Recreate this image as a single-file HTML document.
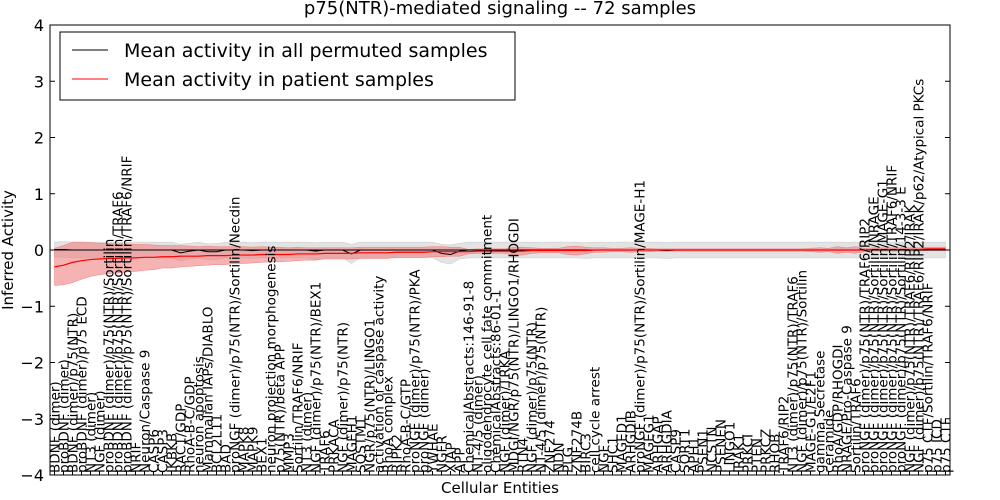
<!DOCTYPE html>
<html><head><meta charset="utf-8"><style>
body{margin:0;background:#fff;}
svg{display:block;font-family:"DejaVu Sans","Liberation Sans",sans-serif;}
</style></head><body>
<svg id="chart" width="1000" height="500"></svg>
<script>
const labels=["BDNF (dimer)","proBDNF (dimer)","BDNF (dimer)/p75(NTR)","proBDNF (dimer)/p75 ECD","NT3 (dimer)","NGF (dimer)","proBDNF (dimer)/p75(NTR)/Sortilin","proBDNF (dimer)/p75(NTR)/Sortilin/TRAF6","proBDNF (dimer)/p75(NTR)/Sortilin/TRAF6/NRIF","NRIF","Neuron/Caspase 9","CASP6","CASP3","IKBKB","RAC1/GDP","RhoA-B-C/GDP","neuron apoptosis","Mammalian IAPs/DIABLO","BCL2L11","BAD","proNGF (dimer)/p75(NTR)/Sortilin/Necdin","MAPK8","MAPK9","BEX1","neuron projection morphogenesis","p75(NTR)/beta APP","MMP3","Sortilin/TRAF6/NRIF","NT3 (dimer)","NGF (dimer)/p75(NTR)/BEX1","TRAF6","PRKACA","NGF (dimer)/p75(NTR)","MAGEH1","SQSTM1","NGR/p75(NTR)/LINGO1","activation of caspase activity","RhoA complex","RIPK2","RhoA-B-C/GTP","proNGF (dimer)/p75(NTR)/PKA","proNGF (dimer)","YWHAE","NGFR","XIAP","APP","ChemicalAbstracts:146-91-8","NT-4/5 (dimer)","oligodendrocyte cell fate commitment","ChemicalAbstracts:86-01-1","NGF (dimer)/TRKA","MDGI/NGR/p75(NTR)/LINGO1/RHOGDI","RTN4","NGF (dimer)/p75(NTR)","NT-4/5 (dimer)/p75(NTR)","ZNF274","NDN","PLG","ZNF274B","BIRC3","cell cycle arrest","NGF","SHC1","MAGED1","ARHGDIB","proNGF (dimer)/p75(NTR)/Sortilin/MAGE-H1","MAGEG1","ARHGAP","ARHGDIA","CASP9","SORT1","APH1","PSEN1","NCSTN","PSENEN","LINGO1","IRAK1","PRKCI","PTEN","PRKCZ","RHOB","TRAF6/RIP2","NT3 (dimer)/p75(NTR)/TRAF6","NGF (dimer)/p75(NTR)/Sortilin","MAGE-G1/E2F1","gamma Secretase","ceramide","RhoA/GDP/RHOGDI","NRAGE/Pro-Caspase 9","Sortilin/TRAF6","proNGF (dimer)/p75(NTR)/TRAF6/RIP2","proNGF (dimer)/p75(NTR)/Sortilin/NRAGE","proNGF (dimer)/p75(NTR)/Sortilin/MAGE-G1","proNGF (dimer)/p75(NTR)/Sortilin/TRAF6/NRIF","proNGF (dimer)/p75(NTR)/Sortilin/14-3-3 E","NGF (dimer)/p75(NTR)/TRAF6/RIP2/IRAK","NGF (dimer)/p75(NTR)/TRAF6/RIP2/IRAK/p62/Atypical PKCs","p75 CTF/Sortilin/TRAF6/NRIF","p75 ICD","p75 CTF"];
const redMean=[-0.30,-0.27,-0.22,-0.19,-0.17,-0.16,-0.15,-0.15,-0.14,-0.14,-0.13,-0.13,-0.12,-0.12,-0.11,-0.11,-0.11,-0.10,-0.10,-0.10,-0.09,-0.09,-0.09,-0.08,-0.08,-0.08,-0.08,-0.07,-0.07,-0.07,-0.06,-0.06,-0.06,-0.06,-0.05,-0.05,-0.05,-0.05,-0.04,-0.04,-0.04,-0.04,-0.03,-0.03,-0.03,-0.03,-0.03,-0.02,-0.02,-0.02,-0.02,-0.02,-0.02,-0.01,-0.01,-0.01,-0.01,-0.01,-0.01,-0.01,0.00,0.00,0.00,0.00,0.00,0.00,0.00,0.00,0.00,0.00,0.00,0.00,0.00,0.00,0.00,0.00,0.00,0.00,0.00,0.00,0.00,0.00,0.00,0.00,0.00,0.00,0.00,0.00,0.00,0.00,0.00,0.01,0.01,0.01,0.01,0.01,0.01,0.02,0.02,0.02];
const redSpread=[0.33,0.35,0.36,0.33,0.3,0.28,0.27,0.26,0.25,0.24,0.23,0.22,0.2,0.2,0.19,0.18,0.17,0.17,0.16,0.16,0.15,0.15,0.14,0.14,0.13,0.13,0.12,0.12,0.11,0.11,0.1,0.1,0.1,0.1,0.1,0.1,0.1,0.1,0.09,0.09,0.09,0.09,0.09,0.09,0.08,0.08,0.04,0.04,0.04,0.04,0.04,0.07,0.07,0.05,0.04,0.04,0.04,0.07,0.08,0.06,0.04,0.04,0.03,0.03,0.04,0.03,0.03,0.02,0.02,0.02,0.02,0.02,0.02,0.02,0.02,0.02,0.02,0.02,0.02,0.02,0.02,0.02,0.02,0.02,0.03,0.04,0.03,0.06,0.04,0.06,0.03,0.03,0.03,0.03,0.03,0.03,0.03,0.03,0.03,0.03];
const blackMean=[0.01,0.01,0.0,0.0,0.0,0.0,0.0,0.0,0.0,0.0,0.0,0.0,0.0,0.0,-0.05,-0.02,0.0,-0.03,-0.03,0.0,0.0,0.0,-0.01,0.0,0.0,0.0,0.0,0.0,0.0,-0.02,0.0,0.0,0.0,-0.07,0.0,0.0,0.0,0.0,0.0,0.0,0.0,0.0,0.0,-0.06,-0.08,-0.02,0.0,0.0,0.0,0.0,0.0,0.0,0.0,0.0,0.0,0.0,0.0,0.0,0.0,-0.01,0.0,0.0,0.0,0.0,0.0,0.0,0.0,0.0,-0.01,0.0,0.0,0.0,0.0,0.0,0.0,0.0,0.0,0.0,0.0,0.0,0.0,0.0,0.0,0.0,0.0,0.0,0.0,0.0,0.0,0.0,0.0,0.0,0.0,0.0,0.0,0.0,0.0,0.0,0.0,0.0];
const graySpread=[0.13,0.14,0.14,0.14,0.14,0.14,0.14,0.14,0.14,0.14,0.14,0.14,0.14,0.14,0.15,0.14,0.14,0.14,0.14,0.14,0.14,0.14,0.14,0.14,0.14,0.14,0.14,0.14,0.14,0.15,0.14,0.14,0.14,0.17,0.14,0.14,0.14,0.14,0.14,0.14,0.14,0.14,0.14,0.16,0.17,0.14,0.14,0.14,0.14,0.14,0.14,0.14,0.14,0.14,0.14,0.14,0.14,0.14,0.14,0.14,0.14,0.14,0.14,0.14,0.14,0.14,0.14,0.14,0.14,0.14,0.14,0.14,0.14,0.14,0.14,0.14,0.14,0.14,0.14,0.14,0.14,0.14,0.14,0.14,0.14,0.14,0.14,0.14,0.14,0.14,0.14,0.14,0.14,0.14,0.14,0.14,0.14,0.14,0.14,0.14];
const yTicks=[-4,-3,-2,-1,0,1,2,3,4];

const NS="http://www.w3.org/2000/svg";
const svg=document.getElementById('chart');
const L=50,R=950,T=25,B=475,N=labels.length;
const x=i=>L+(i+0.5)*(R-L)/N;
const y=v=>T+(4-v)*(B-T)/8;
function mk(tag,at,parent){const e=document.createElementNS(NS,tag);for(const k in at)e.setAttribute(k,at[k]);(parent||svg).appendChild(e);return e;}
function band(mean,spread){let p=[];for(let i=0;i<N;i++)p.push(x(i)+','+y(mean[i]+spread[i]));for(let i=N-1;i>=0;i--)p.push(x(i)+','+y(mean[i]-spread[i]));return p.join(' ');}
function line(mean){return mean.map((v,i)=>x(i)+','+y(v)).join(' ');}

const g=mk('polygon',{points:band(blackMean,graySpread),fill:'#dcdcdc','fill-opacity':'0.8',stroke:'#c8c8c8','stroke-width':'0.5'});


const rb=mk('polygon',{points:band(redMean,redSpread),fill:'#f08080','fill-opacity':'0.6',stroke:'#f08080','stroke-width':'0.5'});


const zl=mk('line',{x1:L,x2:R,y1:y(0),y2:y(0),stroke:'#000','stroke-width':'1'});


const bl=mk('polyline',{points:line(blackMean),fill:'none',stroke:'#000','stroke-width':'1'});


const rl=mk('polyline',{points:line(redMean),fill:'none',stroke:'#f00','stroke-width':'1.2'});



labels.forEach((t,i)=>{
  const e=mk('text',{x:0,y:0,transform:`translate(${x(i)+5},${B-2}) rotate(-90)`,'font-size':'13.5',fill:'#000'});
  e.textContent=t;
  
  
});

const fr=mk('rect',{x:L,y:T,width:R-L,height:B-T,fill:'none',stroke:'#000','stroke-width':'1'});


yTicks.forEach(v=>{
  mk('line',{x1:L,x2:L+5,y1:y(v),y2:y(v),stroke:'#000'});
  mk('line',{x1:R-5,x2:R,y1:y(v),y2:y(v),stroke:'#000'});
  const e=mk('text',{x:L-6,y:y(v)+6,'text-anchor':'end','font-size':'16',fill:'#000'});
  e.textContent=v<0?'\u2212'+(-v):String(v);
  
  
});
for(let i=0;i<N;i++){mk('line',{x1:x(i),x2:x(i),y1:B,y2:B-4,stroke:'#000'});}

const tt=mk('text',{x:500,y:14,'text-anchor':'middle','font-size':'18'});tt.textContent='p75(NTR)-mediated signaling -- 72 samples';


const yl=mk('text',{x:0,y:0,transform:'translate(13,250) rotate(-90)','text-anchor':'middle','font-size':'15'});yl.textContent='Inferred Activity';


const xl=mk('text',{x:500,y:493,'text-anchor':'middle','font-size':'15'});xl.textContent='Cellular Entities';



const lg=mk('g',{});


mk('rect',{x:60,y:32,width:455,height:68,fill:'#fff',stroke:'#000'},lg);
mk('line',{x1:72,x2:108,y1:50,y2:50,stroke:'#000'},lg);
mk('line',{x1:72,x2:108,y1:79,y2:79,stroke:'#f00'},lg);
const l1=mk('text',{x:124,y:57,'font-size':'19'},lg);l1.textContent='Mean activity in all permuted samples';


const l2=mk('text',{x:124,y:86,'font-size':'19'},lg);l2.textContent='Mean activity in patient samples';


</script>
</body></html>
